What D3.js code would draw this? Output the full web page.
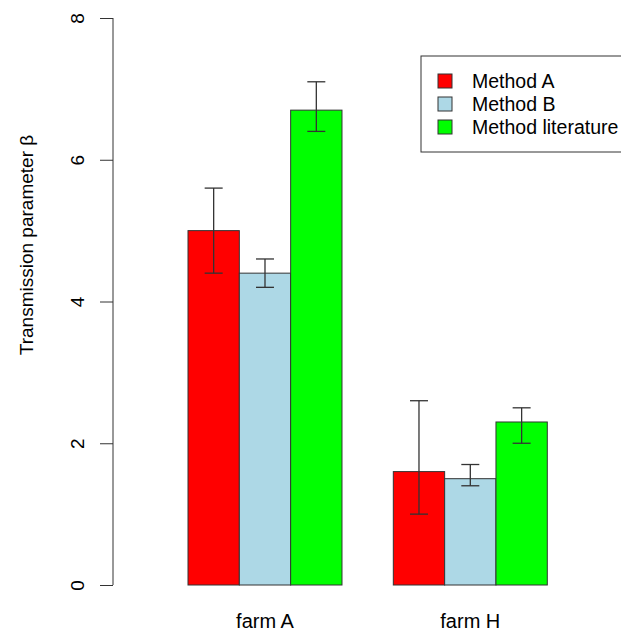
<!DOCTYPE html>
<html>
<head>
<meta charset="utf-8">
<script src="https://cdn.jsdelivr.net/npm/d3@7"></script>
<style>
  body { margin: 0; background: #fff; }
  svg { display: block; font-family: Arial, "Liberation Sans", sans-serif; }
  .bar { stroke: #333; stroke-width: 1; }
  .err { stroke: #333; stroke-width: 1.3; fill: none; }
</style>
</head>
<body>
<svg width="621" height="631"></svg>
<script>
const farms = ["farm A", "farm H"];
const methods = ["Method A", "Method B", "Method literature"];
const colors = ["#ff0000", "#add8e6", "#00ff00"];
// values per farm, one per method
const means = [[5.0, 4.4, 6.7], [1.6, 1.5, 2.3]];
const lower = [[4.4, 4.2, 6.4], [1.0, 1.4, 2.0]];
const upper = [[5.6, 4.6, 7.1], [2.6, 1.7, 2.5]];
const yTicks = [0, 2, 4, 6, 8];

const svg = d3.select("svg");

const y = d3.scaleLinear().domain([0, 8]).range([585, 18]);
// bar slots, in bar-width units (one empty slot between groups)
const x = d3.scaleLinear().domain([1, 8]).range([188, 547.3]);
const bw = x(2) - x(1);

// flatten into bar records
const bars = [];
farms.forEach((f, g) => {
  methods.forEach((m, j) => {
    bars.push({
      farm: f, method: j,
      slot: 1 + g * 4 + j,
      mean: means[g][j], lo: lower[g][j], hi: upper[g][j]
    });
  });
});

// bars
svg.selectAll("rect.bar")
  .data(bars)
  .enter()
  .append("rect")
  .attr("class", "bar")
  .attr("x", d => x(d.slot))
  .attr("y", d => y(d.mean))
  .attr("width", bw)
  .attr("height", d => y(0) - y(d.mean))
  .attr("fill", d => colors[d.method]);

// error bars
const errs = svg.selectAll("g.errbar")
  .data(bars)
  .enter()
  .append("g")
  .attr("class", "errbar");
errs.append("line").attr("class", "err")
  .attr("x1", d => x(d.slot) + bw / 2).attr("x2", d => x(d.slot) + bw / 2)
  .attr("y1", d => y(d.lo)).attr("y2", d => y(d.hi));
errs.append("line").attr("class", "err")
  .attr("x1", d => x(d.slot) + bw / 2 - 9).attr("x2", d => x(d.slot) + bw / 2 + 9)
  .attr("y1", d => y(d.hi)).attr("y2", d => y(d.hi));
errs.append("line").attr("class", "err")
  .attr("x1", d => x(d.slot) + bw / 2 - 9).attr("x2", d => x(d.slot) + bw / 2 + 9)
  .attr("y1", d => y(d.lo)).attr("y2", d => y(d.lo));

// y axis
const yAxis = d3.axisLeft(y).tickValues(yTicks).tickSize(13).tickPadding(0).tickFormat(d3.format("d"));
const gy = svg.append("g").attr("transform", "translate(113,0)").call(yAxis);
gy.select(".domain").attr("d", `M0,${y(0)}V${y(8)}`).attr("stroke", "#333");
gy.selectAll(".tick line").attr("stroke", "#333");
gy.selectAll(".tick text")
  .attr("x", 0).attr("y", 0)
  .attr("transform", "translate(-36,0) rotate(-90)")
  .attr("text-anchor", "middle")
  .attr("dy", "0.35em")
  .attr("font-size", 19)
  .attr("fill", "#000")
  .attr("font-family", "Arial, 'Liberation Sans', sans-serif");

// y label
svg.append("text")
  .attr("transform", "translate(33,245) rotate(-90)")
  .attr("text-anchor", "middle")
  .attr("font-size", 19)
  .text("Transmission parameter  \u03B2");

// farm labels
svg.selectAll("text.farm")
  .data(farms)
  .enter()
  .append("text")
  .attr("class", "farm")
  .attr("x", (d, g) => x(1 + g * 4 + 1.5))
  .attr("y", 628)
  .attr("text-anchor", "middle")
  .attr("font-size", 20)
  .text(d => d);

// legend
const legend = svg.append("g");
legend.append("rect")
  .attr("x", 421).attr("y", 56)
  .attr("width", 210).attr("height", 96)
  .attr("fill", "#fff").attr("stroke", "#333").attr("stroke-width", 1);
const items = legend.selectAll("g.item")
  .data(methods)
  .enter()
  .append("g")
  .attr("class", "item")
  .attr("transform", (d, i) => `translate(0,${81 + i * 23})`);
items.append("rect")
  .attr("x", 438).attr("y", -7)
  .attr("width", 14).attr("height", 14)
  .attr("fill", (d, i) => colors[i])
  .attr("stroke", "#333");
items.append("text")
  .attr("x", 472).attr("y", 0)
  .attr("dy", "0.35em")
  .attr("font-size", 19.5)
  .text(d => d);
</script>
</body>
</html>
